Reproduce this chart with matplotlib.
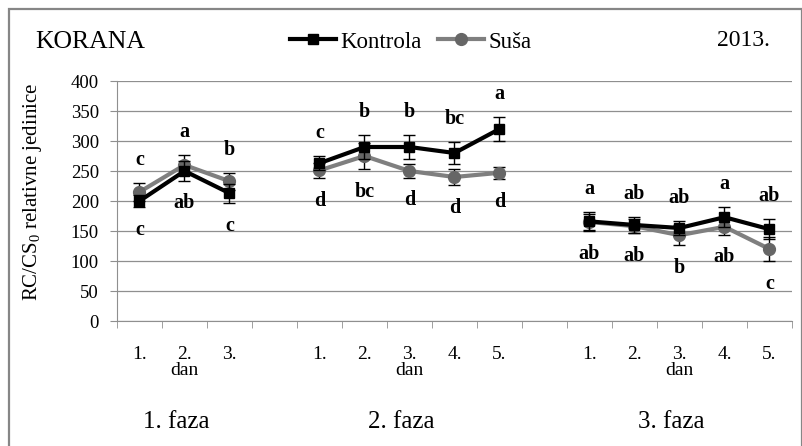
import matplotlib.pyplot as plt
import numpy as np
from matplotlib.lines import Line2D
from matplotlib.patches import Rectangle

plt.rcParams["font.family"] = ["Liberation Serif", "DejaVu Serif"]
plt.rcParams["mathtext.fontset"] = "custom"
plt.rcParams["mathtext.rm"] = "Liberation Serif"

# 15 category slots: 3 days, gap, 5 days, gap, 5 days
day_labels = ["1.", "2.\ndan", "3.", "", "1.", "2.", "3.\ndan", "4.", "5.", "",
              "1.", "2.", "3.\ndan", "4.", "5."]
nan = np.nan
kontrola = [200, 250, 213, nan, 263, 290, 290, 280, 320, nan, 166, 160, 155, 173, 153]
kontrola_err = [10, 16, 16, nan, 12, 20, 20, 18, 20, nan, 16, 13, 12, 17, 17]
susa = [215, 260, 233, nan, 251, 275, 250, 240, 247, nan, 165, 158, 143, 157, 120]
susa_err = [15, 17, 14, nan, 13, 22, 11, 13, 10, nan, 14, 12, 17, 13, 20]
letters_top = ["c", "a", "b", "", "c", "b", "b", "bc", "a", "",
               "a", "ab", "ab", "a", "ab"]
letters_bottom = ["c", "ab", "c", "", "d", "bc", "d", "d", "d", "",
                  "ab", "ab", "b", "ab", "c"]
phases = ["1. faza", "2. faza", "3. faza"]

W, H = 803, 446
fig = plt.figure(figsize=(W / 100, H / 100), dpi=100)
ax = fig.add_axes([117 / W, 1 - 321 / H, (792 - 117) / W, (321 - 81) / H])

x = np.arange(len(day_labels))
k = np.array(kontrola, dtype=float)
ke = np.array(kontrola_err, dtype=float)
s = np.array(susa, dtype=float)
se = np.array(susa_err, dtype=float)

grid_c = "#8f8f8f"
susa_c = "#7f7f7f"
susa_m = "#666666"

ax.errorbar(x, s, yerr=se, color=susa_c, lw=3, marker="o", ms=8.5,
            mfc=susa_m, mec=susa_m, ecolor="black", elinewidth=1,
            capsize=4, capthick=1, zorder=3)
ax.errorbar(x, k, yerr=ke, color="black", lw=3, marker="s", ms=7,
            ecolor="black", elinewidth=1, capsize=4, capthick=1, zorder=4)

# significance letters above and below each day
tops = np.fmax(k + ke, s + se)
bottoms = np.fmin(k - ke, s - se)
for i in range(len(x)):
    if letters_top[i]:
        ax.text(x[i], tops[i] + 38, letters_top[i], ha="center", va="center",
                fontsize=14.5, fontweight="bold")
    if letters_bottom[i]:
        ax.text(x[i], bottoms[i] - 38, letters_bottom[i], ha="center",
                va="center", fontsize=14.5, fontweight="bold")

ax.set_xlim(-0.5, len(x) - 0.5)
ax.set_ylim(0, 400)
ax.set_yticks(range(0, 401, 50))
ax.tick_params(axis="y", length=5, color=grid_c, labelsize=13.5, pad=8)
ax.set_xticks(x)
ax.set_xticklabels(day_labels, fontsize=14, va="top", linespacing=0.95)
ax.tick_params(axis="x", length=0, pad=18)
ax.set_xticks(np.arange(-0.5, len(x)), minor=True)
ax.tick_params(axis="x", which="minor", length=5, color=grid_c, direction="out")

ax.grid(axis="y", color=grid_c, lw=0.9)
ax.set_axisbelow(True)
for side in ["top", "right"]:
    ax.spines[side].set_visible(False)
ax.spines["left"].set_color(grid_c)
ax.spines["bottom"].set_color(grid_c)

# phase labels under each group
for name, xc in zip(phases, [1, 6, 12]):
    px = ax.transData.transform((xc, 0))[0] / W
    fig.text(px - 8 / W, 1 - 428 / H, name, ha="center", va="baseline", fontsize=18)

fig.text(35 / W, 1 - 48 / H, "KORANA", ha="left", va="baseline", fontsize=18.5)
fig.text(770 / W, 1 - 46 / H, "2013.", ha="right", va="baseline", fontsize=17)
fig.text(33 / W, 1 - 192 / H, "RC/CS$_\\mathrm{0}$ relativne jedinice", rotation=90,
         ha="center", va="center", fontsize=15)

handles = [
    Line2D([], [], color="black", lw=3, marker="s", ms=7),
    Line2D([], [], color=susa_c, lw=3, marker="o", ms=8.5, mfc=susa_m, mec=susa_m),
]
fig.legend(handles, ["Kontrola", "Suša"], ncol=2, loc="center",
           bbox_to_anchor=(411 / W, 1 - 42 / H), frameon=False, fontsize=16.5,
           handlelength=2.0, handletextpad=0.2, columnspacing=0.7)

fig.patches.append(Rectangle((9 / W, -0.05), (802 - 9) / W, 1.05 - 9 / H,
                             transform=fig.transFigure, fill=False,
                             ec="#868686", lw=1.6))

plt.savefig("out.png", dpi=100)
